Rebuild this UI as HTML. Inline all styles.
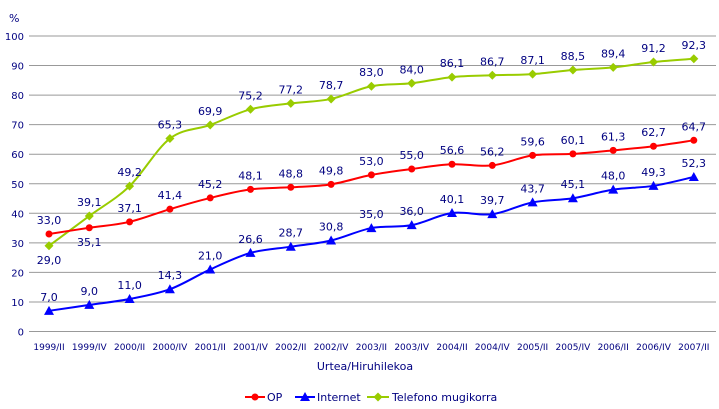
<!DOCTYPE html><html><head><style>body{margin:0;background:#fff}svg{display:block}text{font-family:"DejaVu Sans",Verdana,sans-serif;font-size:11px;fill:#000080}</style></head><body>
<svg id="s" width="719" height="409" xmlns="http://www.w3.org/2000/svg"></svg>
<script>
const s=document.getElementById('s');let h='';
const Y=v=>331.5-2.955*v, X=i=>49+40.3*i;
for(let v=0;v<=100;v+=10){h+=`<line x1="29" x2="716" y1="${Y(v)}" y2="${Y(v)}" stroke="#999" stroke-width="1"/><text x="24" y="${Y(v)+4}" text-anchor="end" style="font-size:10px">${v}</text>`}
h+=`<text x="9" y="22">%</text>`;
const cats=["1999/II","1999/IV","2000/II","2000/IV","2001/II","2001/IV","2002/II","2002/IV","2003/II","2003/IV","2004/II","2004/IV","2005/II","2005/IV","2006/II","2006/IV","2007/II"];
cats.forEach((c,i)=>h+=`<text x="${X(i)}" y="350" text-anchor="middle" style="font-size:9px">${c}</text>`);
h+=`<text x="365" y="370" text-anchor="middle">Urtea/Hiruhilekoa</text>`;
const op=[33.0,35.1,37.1,41.4,45.2,48.1,48.8,49.8,53.0,55.0,56.6,56.2,59.6,60.1,61.3,62.7,64.7];
const net=[7.0,9.0,11.0,14.3,21.0,26.6,28.7,30.8,35.0,36.0,40.1,39.7,43.7,45.1,48.0,49.3,52.3];
const tel=[29.0,39.1,49.2,65.3,69.9,75.2,77.2,78.7,83.0,84.0,86.1,86.7,87.1,88.5,89.4,91.2,92.3];
const f=v=>v.toFixed(1).replace('.',',');
function path(d){const P=d.map((v,i)=>[X(i),Y(v)]);let p=`M${P[0]}`;for(let i=0;i<P.length-1;i++){const p0=P[i-1]||P[i],p1=P[i],p2=P[i+1],p3=P[i+2]||p2;const t=6;p+=` C${p1[0]+(p2[0]-p0[0])/t},${p1[1]+(p2[1]-p0[1])/t} ${p2[0]-(p3[0]-p1[0])/t},${p2[1]-(p3[1]-p1[1])/t} ${p2[0]},${p2[1]}`}return p}
function ser(d,col,mk,below){
h+=`<path d="${path(d)}" fill="none" stroke="${col}" stroke-width="2"/>`;
d.forEach((v,i)=>{const x=X(i),y=Y(v);h+=mk(x,y,col);const b=below.includes(i);h+=`<text x="${x}" y="${b?y+18:y-10}" text-anchor="middle">${f(v)}</text>`});}
const circ=(x,y,c)=>`<circle cx="${x}" cy="${y}" r="3.5" fill="${c}"/>`;
const tri=(x,y,c)=>`<polygon points="${x},${y-5} ${x-5},${y+4} ${x+5},${y+4}" fill="${c}"/>`;
const dia=(x,y,c)=>`<polygon points="${x},${y-4.5} ${x+4.5},${y} ${x},${y+4.5} ${x-4.5},${y}" fill="${c}"/>`;
ser(tel,"#99cc00",dia,[0]);ser(op,"#ff0000",circ,[1]);ser(net,"#0000ff",tri,[]);
h+=`<line x1="245" x2="265" y1="397" y2="397" stroke="#f00" stroke-width="2"/>${circ(255,397,"#f00")}<text x="267" y="401">OP</text>`;
h+=`<line x1="295" x2="315" y1="397" y2="397" stroke="#00f" stroke-width="2"/>${tri(305,397,"#00f")}<text x="317" y="401">Internet</text>`;
h+=`<line x1="367" x2="389" y1="397" y2="397" stroke="#9c0" stroke-width="2"/>${dia(378,397,"#9c0")}<text x="392" y="401">Telefono mugikorra</text>`;
s.innerHTML=h;
</script></body></html>
